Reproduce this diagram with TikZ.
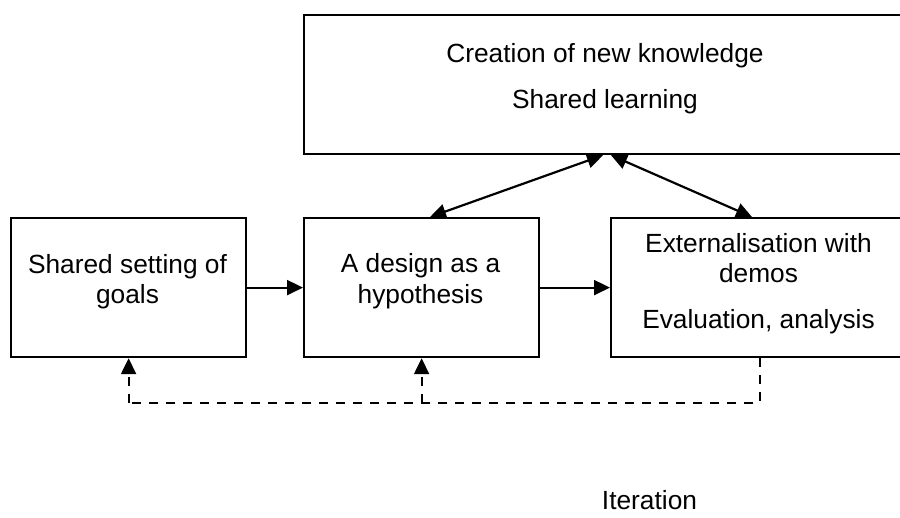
\documentclass[tikz,border=0pt]{standalone}
\usepackage{fontspec}
\setmainfont{Liberation Sans}
\usetikzlibrary{arrows.meta,calc}
\begin{document}
\begin{tikzpicture}[x=1pt,y=-1pt,
  >={Triangle[length=16pt,width=15pt]},
  box/.style={draw, line width=2.2pt, rectangle, inner sep=0pt, anchor=north west,
    minimum height=139pt},
  lbl/.style={anchor=base, inner sep=0pt, font=\fontsize{26.3}{30}\selectfont},
  link/.style={line width=2.2pt, ->},
  twoway/.style={line width=2.2pt, <->},
  dashline/.style={line width=2.2pt, dash pattern=on 9pt off 8pt},
  dasharrow/.style={dashline, ->}
]
\useasboundingbox (0,0) rectangle (900,517);
\clip (0,0) rectangle (900,517);

% boxes
\node[box, minimum width=604pt] (top) at (303,14) {};
\node[box, minimum width=235pt] (goals) at (10,217) {};
\node[box, minimum width=235pt] (design) at (303,217) {};
\node[box, minimum width=297pt] (ext) at (610,217) {};

% box texts
\node[lbl] (t1) at (605,62) {Creation of new knowledge};
\node[lbl] (t2) at (605,108) {Shared learning};
\node[lbl] (g1) at (127.5,273) {Shared setting of};
\node[lbl] (g2) at (127.5,303) {goals};
\node[lbl] (d1) at (420.5,272) {A design as a};
\node[lbl] (d2) at (420.5,303) {hypothesis};
\node[lbl] (e1) at (758.5,252) {Externalisation with};
\node[lbl] (e2) at (758.5,282) {demos};
\node[lbl] (e3) at (758.5,328) {Evaluation, analysis};
\node[lbl] (iter) at (649.5,509.5) {Iteration};

% forward flow
\draw[link] (goals.east) -- (design.west);
\draw[link] (design.east) -- (ext.west);

% exchange with the knowledge box
\coordinate (kA) at ($(top.south west)+(300,0)$);
\coordinate (kB) at ($(top.south west)+(308,0)$);
\coordinate (dTop) at ($(design.north west)+(127,0)$);
\coordinate (eTop) at ($(ext.north west)+(142,0)$);
\draw[twoway] (dTop) -- (kA);
\draw[twoway] (kB) -- (eTop);

% iteration loop
\coordinate (loop) at (0,403);
\draw[dashline] (ext.south) -- (ext.south |- loop) -- (goals.south |- loop);
\draw[dasharrow] (goals.south |- loop) -- (goals.south);
\draw[dasharrow] (design.south |- loop) -- (design.south);
\end{tikzpicture}
\end{document}
